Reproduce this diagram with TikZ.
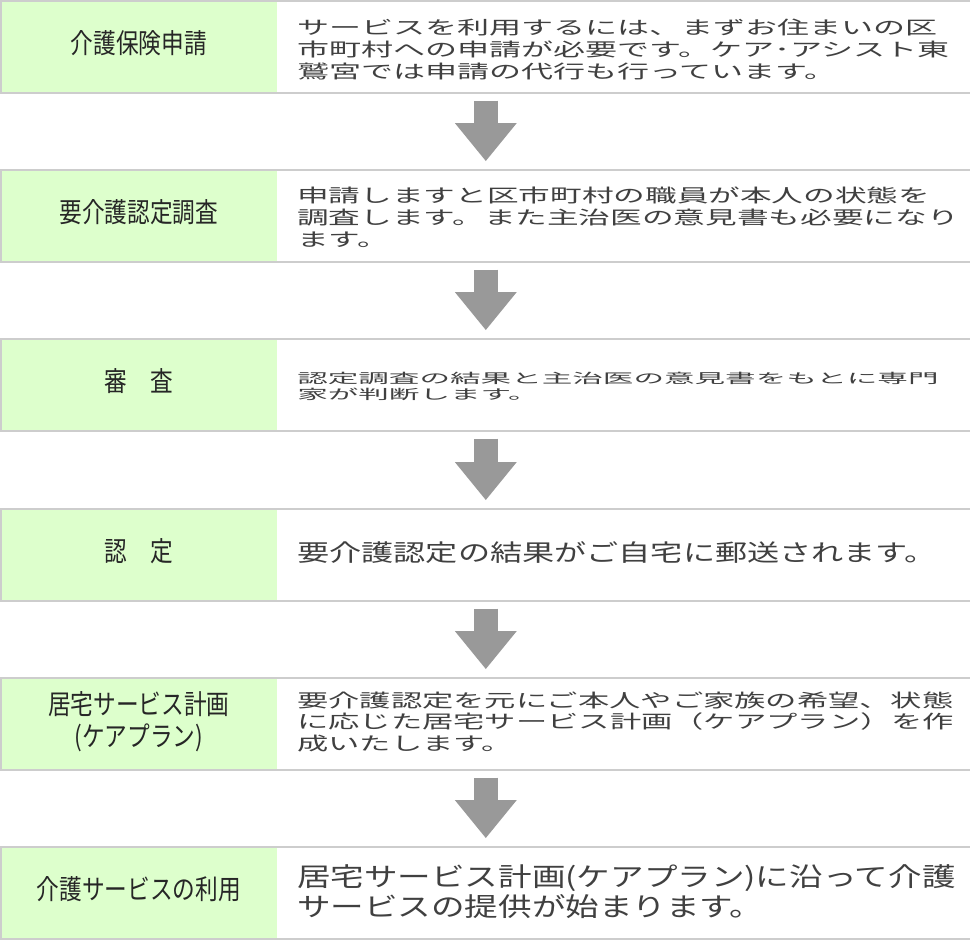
\documentclass[tikz,border=0pt]{standalone}
\usepackage{fontspec}
\usepackage{graphicx}
\usepackage{tikz}
\usetikzlibrary{arrows.meta,positioning}
\newfontfamily\labelfont{Noto Sans CJK JP}
\newfontfamily\descfont{Noto Sans CJK JP}
\newcommand{\wide}[2]{\scalebox{#1}[1]{\begin{tabular}{@{}l@{}}#2\end{tabular}}}
\newcommand{\narrow}[1]{\scalebox{0.83}[1]{\begin{tabular}{@{}c@{}}#1\end{tabular}}\hspace{7.5pt}}
\definecolor{cellgreen}{RGB}{221,255,204}
\definecolor{rowgray}{RGB}{205,205,205}
\definecolor{flowgray}{RGB}{153,153,153}
\definecolor{textgray}{RGB}{64,64,64}
\tikzstyle{rowbox}=[draw=rowgray,line width=1.2pt,minimum width=727.5pt,minimum height=69pt,inner sep=0pt,anchor=north west]
\tikzstyle{cell}=[fill=cellgreen,minimum width=207.75pt,minimum height=69pt,inner sep=0pt,anchor=north west,text=black!85,font={\fontsize{20.5pt}{21.5pt}\labelfont}]
\tikzstyle{desc}=[anchor=west,inner sep=0pt,text=textgray]
\tikzstyle{flow}=[color=flowgray,draw,line width=18pt,-{Triangle[width=46.5pt,length=28.5pt,line width=0pt]},shorten <=5.25pt,shorten >=6pt]

\begin{document}
\begin{tikzpicture}[x=0.75pt,y=-0.75pt]
\fill[white] (0,0) rectangle (970,939);
\useasboundingbox (0,0) rectangle (970,939);
% row 1
\node[cell] (c1) at (0,0) {\narrow{介護保険申請}};
\node[desc,font={\fontsize{13.8pt}{16pt}\descfont}] (d1) at (297,52) {\wide{1.74}{サービスを利用するには、まずお住まいの区\\市町村への申請が必要です。ケア･アシスト東\\鷲宮では申請の代行も行っています。}};
\node[rowbox] (r1) at (0,0) {};
% row 2
\node[cell] (c2) at (0,169) {\narrow{要介護認定調査}};
\node[desc,font={\fontsize{13.8pt}{16pt}\descfont}] (d2) at (297,220) {\wide{1.72}{申請しますと区市町村の職員が本人の状態を\\調査します。また主治医の意見書も必要になり\\ます。}};
\node[rowbox] (r2) at (0,169) {};
% row 3
\node[cell] (c3) at (0,338) {\narrow{審　査}};
\node[desc,font={\fontsize{10.1pt}{10.5pt}\descfont}] (d3) at (297,388) {\wide{2.27}{認定調査の結果と主治医の意見書をもとに専門\\家が判断します。}};
\node[rowbox] (r3) at (0,338) {};
% row 4
\node[cell] (c4) at (0,508) {\narrow{認　定}};
\node[desc,font={\fontsize{17.6pt}{21pt}\descfont}] (d4) at (297,556) {\wide{1.37}{要介護認定の結果がご自宅に郵送されます。}};
\node[rowbox] (r4) at (0,508) {};
% row 5
\node[cell] (c5) at (0,677) {\narrow{居宅サービス計画\\(ケアプラン)}};
\node[desc,font={\fontsize{13.8pt}{15pt}\descfont}] (d5) at (297,724) {\wide{1.7}{要介護認定を元にご本人やご家族の希望、状態\\に応じた居宅サービス計画（ケアプラン）を作\\成いたします。}};
\node[rowbox] (r5) at (0,677) {};
% row 6
\node[cell] (c6) at (0,846) {\narrow{介護サービスの利用}};
\node[desc,font={\fontsize{19.5pt}{22pt}\descfont}] (d6) at (297,895) {\wide{1.29}{居宅サービス計画(ケアプラン)に沿って介護\\サービスの提供が始まります。}};
\node[rowbox] (r6) at (0,846) {};

\path[flow]
(r1) edge (r2)
(r2) edge (r3)
(r3) edge (r4)
(r4) edge (r5)
(r5) edge (r6);
\end{tikzpicture}
\end{document}
